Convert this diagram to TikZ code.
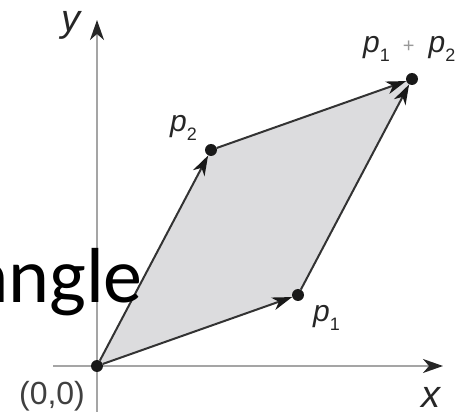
\documentclass[tikz,border=0pt]{standalone}
\usepackage{fontspec}
\setmainfont{Liberation Sans}
\newfontfamily\slidefont{Carlito}
\usetikzlibrary{arrows.meta,positioning}
\definecolor{fillgray}{RGB}{220,220,222}
\definecolor{axisgray}{RGB}{165,165,165}
\newcommand{\pv}[1]{\textit{p}\raisebox{-0.3em}{\fontsize{18}{18}\selectfont #1}}

\begin{document}
\begin{tikzpicture}[
    x=1pt, y=-1pt,
    axis/.style={draw=axisgray, line width=1.6pt, -{Stealth[length=20pt, width=14pt, inset=6pt, color=black!85]}},
    vec/.style={draw=black!80, line width=2pt, -{Stealth[length=20pt, width=13pt, inset=6pt, color=black!90]}},
    dot/.style={circle, fill=black!90, inner sep=0pt, minimum size=12pt},
    lbl/.style={font=\fontsize{30}{30}\selectfont, inner sep=0pt, text=black!85},
    axlbl/.style={font=\fontsize{38}{38}\selectfont\itshape, inner sep=0pt, text=black!85}
]
    \useasboundingbox (0,0) rectangle (467,417);

    % Corners of the parallelogram
    \coordinate (co) at (97,366);
    \coordinate (cp1) at (298,295);
    \coordinate (cp2) at (211,150);
    \coordinate (cp12) at (412,79);
    \fill[fillgray] (co) -- (cp1) -- (cp12) -- (cp2) -- cycle;

    % Axes
    \coordinate (xs) at (53,366);
    \coordinate (xe) at (443,366);
    \coordinate (ys) at (97,412);
    \coordinate (ye) at (97,20);
    \draw[axis] (xs) -- (xe);
    \draw[axis] (ys) -- (ye);

    % Points
    \node[dot] (o) at (co) {};
    \node[dot] (p1) at (cp1) {};
    \node[dot] (p2) at (cp2) {};
    \node[dot] (p12) at (cp12) {};

    % Vectors
    \draw[vec] (o) -- (p1);
    \draw[vec] (o) -- (p2);
    \draw[vec] (p1) -- (p12);
    \draw[vec] (p2) -- (p12);

    % Labels
    \node[axlbl] (ylbl) at (71,25) {y};
    \node[axlbl] (xlbl) at (431,397) {x};
    \node[lbl, font=\fontsize{32}{32}\selectfont, text=black!75] (olbl) at (52,396) {(0,0)};
    \node[lbl, anchor=base west] (lp1) at (313,322) {\pv{1}};
    \node[lbl, anchor=base west] (lp2) at (170,132) {\pv{2}};
    \node[lbl, anchor=base west] (lp12) at (363,53) {\pv{1}\hspace{13pt}{\fontsize{20}{20}\selectfont\color{black!40}+}\hspace{14pt}\pv{2}};

    % Cut-off slide text
    \node[font=\slidefont\fontsize{78}{78}\selectfont, anchor=base east, inner sep=0pt] (cut) at (143,303) {angle};
\end{tikzpicture}
\end{document}
